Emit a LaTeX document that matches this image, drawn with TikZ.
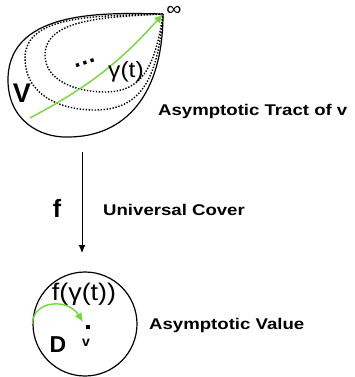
\documentclass[tikz,border=0pt]{standalone}
\usepackage{fontspec}
\setmainfont{Liberation Sans}
\newfontfamily\widefont[FakeStretch=1.2]{Liberation Sans}
\newfontfamily\labfont[FakeStretch=1.12]{Liberation Sans}
\usepackage{xcolor}
\usetikzlibrary{arrows.meta,calc,positioning}
\definecolor{curvegreen}{RGB}{115,215,60}

\begin{document}
\begin{tikzpicture}[x=1pt,y=-1pt,>=Latex]
  \tikzset{
    caption/.style={font=\widefont\fontsize{15.5}{17}\selectfont\bfseries,anchor=west,inner sep=0pt},
    plain/.style={font=\labfont\fontsize{#1}{#1}\selectfont,inner sep=0pt},
    letter/.style={font=\fontsize{#1}{#1}\selectfont\bfseries,inner sep=0pt},
    dotline/.style={line width=1.4pt,dash pattern=on 1.4pt off 1.6pt},
    greenpath/.style={curvegreen,line width=1.4pt,-{Latex[length=9pt,width=8pt]}}
  }
  \useasboundingbox (0,0) rectangle (354,377);
  % tract of v
  \coordinate (tip) at (163,14);
  \draw[line width=1.2pt]
    (tip) .. controls (110,13) and (10,8) .. (8,78)
    .. controls (7,120) and (40,138) .. (68,137)
    .. controls (125,137) and (163,95) .. (tip);
  \draw[dotline]
    (tip) .. controls (100,16) and (25,14) .. (25,58)
    .. controls (25,95) and (60,110) .. (95,110)
    .. controls (140,110) and (158,80) .. (tip);
  \draw[dotline]
    (tip) .. controls (110,17) and (45,18) .. (45,55)
    .. controls (45,80) and (75,92) .. (105,92)
    .. controls (140,92) and (155,70) .. (tip);
  \coordinate (gstart) at (30,118);
  \draw[greenpath] (gstart) to[bend right=10] (tip);
  \node[plain=19] (infty) at (174,11) {∞};
  \node[plain=22] (gamma) at (126,72) {γ(t)};
  \node[letter=24,rotate=18] (dots) at (85,63) {…};
  \node[letter=27] (bigV) at (22,93) {V};
  \node[caption] (tract) at (158,111) {Asymptotic Tract of v};
  % covering map
  \coordinate (mapfrom) at (82,152);
  \coordinate (mapto) at (82,253);
  \draw[line width=1pt,-{Latex[length=8pt,width=7pt]}] (mapfrom) -- (mapto);
  \node[letter=25] (fmap) at (57,208) {f};
  \node[caption] (cover) at (103,210) {Universal Cover};
  % disk
  \node[draw,circle,line width=1.2pt,minimum size=104pt,inner sep=0pt] (disk) at (85,324) {};
  \node[plain=24] (fgamma) at (84,294) {f(γ(t))};
  \fill (86,325) rectangle (90,329);
  \coordinate (vpt) at (83,322);
  \draw[greenpath] (disk.west) .. controls (33,300) and (68,298) .. (vpt);
  \node[letter=14] (vlab) at (86,343) {v};
  \node[letter=23] (bigD) at (58,345) {D};
  \node[caption] (value) at (149,325) {Asymptotic Value};
\end{tikzpicture}
\end{document}
